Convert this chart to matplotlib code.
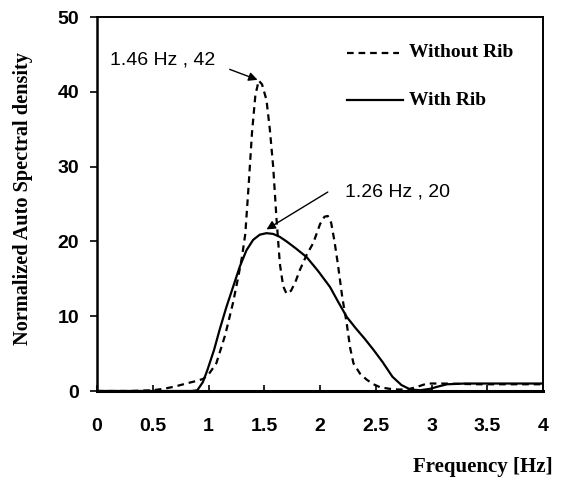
import matplotlib
matplotlib.use("Agg")
import matplotlib.pyplot as plt

# Without Rib (dashed)
freq_without = [0.0, 0.3, 0.5, 0.6, 0.7, 0.8, 0.88, 0.95, 1.0, 1.07, 1.15, 1.22, 1.27, 1.30,
                1.33, 1.36, 1.39, 1.42, 1.45, 1.48, 1.52, 1.55, 1.58, 1.61, 1.64, 1.67, 1.70,
                1.74, 1.78, 1.82, 1.88, 1.94, 2.00, 2.04, 2.07, 2.10, 2.13, 2.16, 2.20, 2.24,
                2.27, 2.30, 2.36, 2.42, 2.48, 2.54, 2.62, 2.70, 2.78, 2.86, 2.96, 3.1, 3.43,
                3.7, 4.0]
asd_without = [0.0, 0.0, 0.1, 0.3, 0.6, 1.0, 1.3, 1.6, 2.2, 3.7, 7.5, 11.8, 15.5, 17.9,
               21.0, 27.5, 34.5, 39.5, 41.5, 41.0, 38.9, 35.0, 30.0, 23.0, 17.0, 14.0, 13.0,
               13.4, 14.6, 16.2, 18.2, 19.8, 22.3, 23.3, 23.4, 22.5, 20.0, 17.0, 12.5, 9.0,
               5.8, 3.7, 2.3, 1.5, 0.9, 0.5, 0.3, 0.2, 0.2, 0.5, 1.0, 1.0, 0.9, 0.9, 0.9]

# With Rib (solid)
freq_with = [0.0, 0.5, 0.85, 0.90, 0.95, 0.99, 1.05, 1.10, 1.16, 1.22, 1.28, 1.34, 1.40,
             1.46, 1.52, 1.58, 1.64, 1.70, 1.78, 1.88, 1.98, 2.09, 2.16, 2.24, 2.32, 2.40,
             2.48, 2.56, 2.65, 2.73, 2.81, 2.90, 2.99, 3.06, 3.14, 3.3, 3.6, 4.0]
asd_with = [0.0, 0.0, 0.0, 0.1, 1.2, 2.8, 5.5, 8.2, 11.2, 13.9, 16.6, 18.8, 20.2,
            20.9, 21.1, 21.0, 20.6, 20.0, 19.1, 17.9, 16.1, 13.9, 12.0, 9.9, 8.4, 7.0,
            5.5, 3.9, 1.9, 0.8, 0.2, 0.1, 0.3, 0.6, 0.9, 1.0, 1.0, 1.0]

x_ticks = [0, 0.5, 1, 1.5, 2, 2.5, 3, 3.5, 4]
x_tick_labels = ["0", "0.5", "1", "1.5", "2", "2.5", "3", "3.5", "4"]
y_ticks = [0, 10, 20, 30, 40, 50]

fig = plt.figure(figsize=(5.69, 4.83), dpi=100)
ax = fig.add_axes([97 / 569, 1 - 391 / 483, 446 / 569, 374 / 483])

ax.plot(freq_without, asd_without, color="black", lw=1.6, linestyle=(0, (3, 2.2)))
ax.plot(freq_with, asd_with, color="black", lw=1.6)

ax.set_xlim(0, 4)
ax.set_ylim(0, 50)
ax.set_xticks(x_ticks)
ax.set_xticklabels(x_tick_labels)
ax.set_yticks(y_ticks)

for lab in ax.get_xticklabels() + ax.get_yticklabels():
    lab.set_family("Liberation Sans")
    lab.set_fontweight("bold")
    lab.set_fontsize(14)
ax.tick_params(axis="x", direction="in", length=4, width=1.2, pad=19.5)
ax.tick_params(axis="y", direction="out", length=5, width=1.2, pad=8)
for s in ax.spines.values():
    s.set_linewidth(1.4)
ax.spines["bottom"].set_linewidth(2.2)
ax.spines["left"].set_linewidth(1.8)

ax.set_ylabel("Normalized Auto Spectral density", family="Liberation Serif",
              fontweight="bold", fontsize=14.6)
ax.yaxis.set_label_coords(-64 / 446, 0.515)
fig.text(553 / 569, 1 - 467 / 483, "Frequency [Hz]", family="Liberation Serif",
         fontweight="bold", fontsize=15, ha="right", va="center")

# legend drawn by hand like the original
ax.plot([2.24, 2.71], [45.2, 45.2], color="black", lw=1.6, linestyle=(0, (3, 2.2)),
        clip_on=False)
ax.text(2.80, 45.2, "Without Rib", family="Liberation Serif", fontweight="bold",
        fontsize=14, va="center")
ax.plot([2.24, 2.74], [38.9, 38.9], color="black", lw=1.6)
ax.text(2.80, 38.9, "With Rib", family="Liberation Serif", fontweight="bold",
        fontsize=14, va="center")

# annotations: text and arrow placed apart, as in the original
arrow = dict(arrowstyle="-|>", color="black", lw=1.0, mutation_scale=13,
             shrinkA=0, shrinkB=0)
ax.text(0.12, 44.3, "1.46 Hz , 42", fontsize=14, family="Liberation Sans",
        ha="left", va="center")
ax.annotate("", xy=(1.44, 41.6), xytext=(1.19, 43.0), arrowprops=arrow)
ax.text(2.22, 26.6, "1.26 Hz , 20", fontsize=14, family="Liberation Sans",
        ha="left", va="center")
ax.annotate("", xy=(1.52, 21.6), xytext=(2.07, 26.6), arrowprops=arrow)

fig.savefig("out.png", dpi=100)
